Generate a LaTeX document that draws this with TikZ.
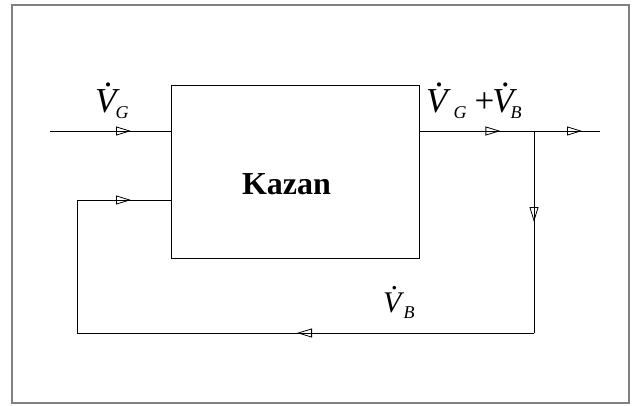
\documentclass[tikz,border=0pt]{standalone}
\usepackage{fontspec}
\setmainfont{Liberation Serif}
\usetikzlibrary{arrows.meta,decorations.markings}
\newcommand\vd[2][0pt]{\makebox[0pt][l]{\hspace{0.27em}\raisebox{0.76em}{\itshape.}}{\itshape V}\hspace{#1}\raisebox{-6pt}{\fontsize{18}{20}\selectfont\itshape #2}}
\tikzset{
  flow/.style={draw,line width=0.9pt},
  markat/.style={postaction={decorate,decoration={markings,
     mark=at position #1 with {\arrow[line width=0.8pt]{Triangle[open,length=15pt,width=9pt]}}}}},
  lbl/.style={anchor=base west,inner sep=0pt,font=\fontsize{35}{40}\selectfont},
  boxst/.style={draw,line width=0.9pt,minimum width=248pt,minimum height=173pt,inner sep=0pt},
}
\begin{document}
\begin{tikzpicture}[x=1pt,y=-1pt]
\useasboundingbox (0,0) rectangle (634,406);
\draw[gray,line width=1.5pt] (12,5) rectangle (629,403);
\node[boxst] (kazan) at (295,171.5) {};
\node[font=\fontsize{32}{36}\selectfont\bfseries,anchor=base,inner sep=0pt] (kt) at (286.5,195) {Kazan};
\coordinate (in) at (50,131);
\coordinate (br) at (534,131);
\coordinate (out) at (600,131);
\coordinate (bl) at (534,333);
\coordinate (ll) at (77,333);
\coordinate (lu) at (77,200);
\path[flow,markat=81pt] (in) -- (kazan.west |- in);
\path[flow,markat=81pt] (kazan.east |- br) -- (br);
\path[flow,markat=48pt] (br) -- (out);
\path[flow,markat=91pt] (br) -- (bl);
\path[flow,markat=237pt,markat=644pt] (bl) -- (ll) -- (lu) -- (kazan.west |- lu);
\node[lbl] (lg) at (95,113) {\vd[-1pt]{G}};
\node[lbl] (lgb) at (426,113) {\vd[6pt]{G}\hspace{8pt}+\hspace{-2pt}\vd[-3pt]{B}};
\node[lbl,font=\fontsize{30}{34}\selectfont] (lb) at (383,312) {\vd[2pt]{B}};
\end{tikzpicture}
\end{document}
